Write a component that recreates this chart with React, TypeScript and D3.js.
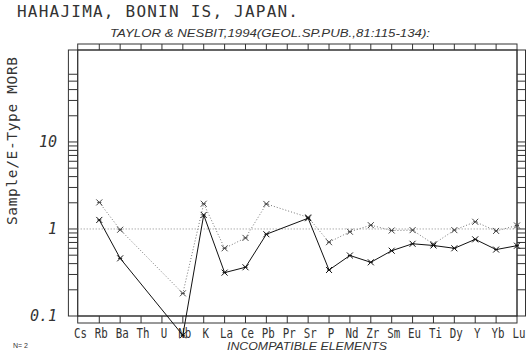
import React from "react";
import * as d3 from "d3";

const W = 531;
const H = 356;

const categories = ["Cs","Rb","Ba","Th","U","Nb","K","La","Ce","Pb","Pr","Sr","P","Nd","Zr","Sm","Eu","Ti","Dy","Y","Yb","Lu"];

// Sample 1 (solid line), null = not analysed
const sample1: (number | null)[] = [null,1.27,0.46,null,null,0.060,1.45,0.315,0.363,0.87,null,1.33,0.338,0.496,0.414,0.563,0.676,0.646,0.60,0.76,0.58,0.643];
// Sample 2 (dotted line)
const sample2: (number | null)[] = [null,2.02,0.98,null,null,0.182,1.95,0.60,0.79,1.94,null,1.36,0.705,0.93,1.106,0.96,0.97,0.67,0.97,1.21,0.95,1.097];

const yTickLabels = [
  { v: 0.1, t: "0.1" },
  { v: 1, t: "1" },
  { v: 10, t: "10" },
];
const yMinorTicks = [0.2,0.3,0.4,0.5,0.6,0.7,0.8,0.9,1,2,3,4,5,6,7,8,9,10,20,30,40,50,60];

const title = "HAHAJIMA, BONIN IS, JAPAN.";
const subtitle = "TAYLOR & NESBIT,1994(GEOL.SP.PUB.,81:115-134):";
const yTitle = "Sample/E-Type MORB";
const xTitle = "INCOMPATIBLE ELEMENTS";
const nLabel = "N= 2";

const PL = 77.7, PR = 517, PT = 50, PB = 316;
const BAND = 9.3;

const x = d3.scalePoint<string>().domain(categories).range([78.4, 517]);
const y = d3.scaleLog().domain([0.1, 114]).range([PB, PT]);

const mono = "'DejaVu Sans Mono', monospace";
const sans = "'Liberation Sans', Arial, sans-serif";
const ink = "#333";

function Marker({ cx, cy, color }: { cx: number; cy: number; color: string }) {
  const s = 3;
  return (
    <g stroke={color} strokeWidth={1} fill="none">
      <line x1={cx - s} y1={cy - s} x2={cx + s} y2={cy + s} />
      <line x1={cx - s} y1={cy + s} x2={cx + s} y2={cy - s} />
      <line x1={cx - 2} y1={cy} x2={cx + 2} y2={cy} />
    </g>
  );
}

function seriesPoints(vals: (number | null)[]) {
  return categories
    .map((c, i) => ({ c, v: vals[i] }))
    .filter((d) => d.v !== null) as { c: string; v: number }[];
}

export default function App() {
  const line = d3
    .line<{ c: string; v: number }>()
    .x((d) => x(d.c) as number)
    .y((d) => y(d.v));
  const p1 = seriesPoints(sample1);
  const p2 = seriesPoints(sample2);

  return (
    <svg
      width={W}
      height={H}
      viewBox={`0 0 ${W} ${H}`}
      style={{ position: "absolute", left: 0, top: 0, background: "#fff" }}
    >
      <rect x={0} y={0} width={W} height={H} fill="#fff" />
      {/* titles */}
      <text x={17} y={17} fontFamily={mono} fontSize={16} fill={ink} textLength={281} lengthAdjust="spacing">
        {title}
      </text>
      <text x={110} y={36.5} fontFamily={sans} fontStyle="italic" fontSize={11.5} fill={ink} textLength={320} lengthAdjust="spacingAndGlyphs">
        {subtitle}
      </text>

      {/* frame */}
      <g stroke={ink} strokeWidth={1} fill="none">
        <rect x={PL} y={PT} width={PR - PL} height={PB - PT} />
        <rect x={PL - BAND} y={PT} width={BAND} height={PB - PT} />
        <rect x={PR} y={PT} width={BAND - 0.8} height={PB - PT} />
        <rect x={PL} y={PT - 6} width={PR - PL} height={6} />
        <rect x={PL} y={PB} width={PR - PL} height={7} />
        {yMinorTicks.map((v, i) => (
          <g key={i}>
            <line x1={PL - BAND} x2={PL} y1={y(v)} y2={y(v)} />
            <line x1={PR} x2={PR + BAND - 0.8} y1={y(v)} y2={y(v)} />
          </g>
        ))}
        {categories.slice(1, -1).map((c) => (
          <g key={c}>
            <line x1={x(c)} x2={x(c)} y1={PT - 6} y2={PT} />
            <line x1={x(c)} x2={x(c)} y1={PB} y2={PB + 7} />
          </g>
        ))}
      </g>

      {/* reference line at 1 */}
      <line x1={PL} x2={PR} y1={y(1)} y2={y(1)} stroke="#888" strokeWidth={1} strokeDasharray="1,2" />

      {/* y tick labels */}
      {yTickLabels.map((d) => (
        <text
          key={d.t}
          x={57}
          y={y(d.v) + 5}
          textAnchor="end"
          fontFamily={mono}
          fontStyle="italic"
          fontSize={15}
          fill={ink}
        >
          {d.t}
        </text>
      ))}

      {/* y title */}
      <text
        transform={`translate(17,${141}) rotate(-90)`}
        textAnchor="middle"
        fontFamily={mono}
        fontSize={14.5}
        fill={ink}
        textLength={168}
        lengthAdjust="spacing"
      >
        {yTitle}
      </text>

      {/* x labels */}
      {categories.map((c) => (
        <text
          key={c}
          x={(x(c) as number) + 2 - (c.length * 6.5) / 2}
          y={338}
          fontFamily={mono}
          fontSize={13.5}
          fill={ink}
          textLength={c.length * 6.5}
          lengthAdjust="spacingAndGlyphs"
        >
          {c}
        </text>
      ))}
      <text x={227} y={350} fontFamily={sans} fontStyle="italic" fontSize={11} fill={ink} textLength={160} lengthAdjust="spacingAndGlyphs">
        {xTitle}
      </text>
      <text x={13} y={348} fontFamily={sans} fontSize={7} fill={ink}>
        {nLabel}
      </text>

      {/* series 2 dotted */}
      <path d={line(p2) || ""} fill="none" stroke="#777" strokeWidth={1} strokeDasharray="1,2" />
      {p2.map((d) => (
        <Marker key={"b" + d.c} cx={x(d.c) as number} cy={y(d.v)} color="#444" />
      ))}
      {/* series 1 solid */}
      <path d={line(p1) || ""} fill="none" stroke="#111" strokeWidth={1} />
      {p1.map((d) => (
        <Marker key={"a" + d.c} cx={x(d.c) as number} cy={y(d.v)} color="#111" />
      ))}
    </svg>
  );
}
